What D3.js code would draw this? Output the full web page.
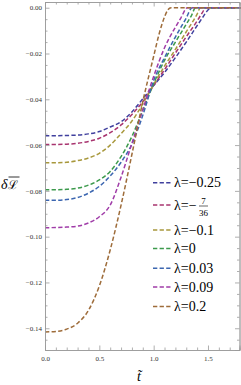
<!DOCTYPE html>
<html>
<head>
<meta charset="utf-8">
<script src="https://cdn.jsdelivr.net/npm/d3@7"></script>
<style>
  body { margin: 0; background: #fff; }
  svg { display: block; }
</style>
</head>
<body>
<svg width="241" height="385"></svg>
<script>
// series data: [t, deltaL]
const lamM025 = [[0,-0.0559],[0.1,-0.0559],[0.2,-0.0558],[0.3,-0.0556],[0.4,-0.0551],[0.5,-0.0541],[0.6,-0.0521],[0.7,-0.0498],[0.8,-0.0455],[0.9,-0.0398],[1.0,-0.0340],[1.1,-0.0283],[1.2,-0.0218],[1.3,-0.0150],[1.4,-0.0078],[1.45,-0.0043],[1.5,-0.0010],[1.53,0],[1.8,0]];
const lamM736 = [[0,-0.0597],[0.1,-0.0597],[0.2,-0.0596],[0.3,-0.0592],[0.4,-0.0584],[0.5,-0.0570],[0.6,-0.0546],[0.7,-0.0512],[0.8,-0.0466],[0.9,-0.0410],[1.0,-0.0340],[1.1,-0.0270],[1.2,-0.0198],[1.3,-0.0127],[1.4,-0.0058],[1.45,-0.0020],[1.48,0],[1.8,0]];
const lamM01 = [[0,-0.0677],[0.1,-0.0677],[0.2,-0.0675],[0.3,-0.0668],[0.4,-0.0656],[0.5,-0.0636],[0.6,-0.0600],[0.7,-0.0550],[0.8,-0.0495],[0.9,-0.0420],[1.0,-0.0335],[1.1,-0.0255],[1.2,-0.0182],[1.3,-0.0105],[1.4,-0.0028],[1.43,0],[1.8,0]];
const lam0 = [[0,-0.0795],[0.1,-0.0795],[0.2,-0.0793],[0.3,-0.0788],[0.4,-0.0775],[0.5,-0.0752],[0.6,-0.0715],[0.7,-0.0650],[0.8,-0.0562],[0.9,-0.0448],[1.0,-0.0332],[1.1,-0.0230],[1.2,-0.0150],[1.3,-0.0072],[1.35,-0.0032],[1.385,0],[1.8,0]];
const lam003 = [[0,-0.0841],[0.1,-0.0841],[0.2,-0.0838],[0.3,-0.0829],[0.4,-0.0810],[0.5,-0.0780],[0.6,-0.0735],[0.7,-0.0675],[0.8,-0.0595],[0.9,-0.0470],[1.0,-0.0318],[1.1,-0.0218],[1.2,-0.0128],[1.3,-0.0045],[1.354,0],[1.8,0]];
const lam009 = [[0,-0.0961],[0.1,-0.0960],[0.2,-0.0958],[0.3,-0.0954],[0.4,-0.0940],[0.5,-0.0913],[0.6,-0.0862],[0.7,-0.0740],[0.8,-0.0592],[0.9,-0.0445],[1.0,-0.0300],[1.1,-0.0175],[1.2,-0.0085],[1.25,-0.0045],[1.31,0],[1.8,0]];
const lam02 = [[0,-0.1416],[0.1,-0.1414],[0.2,-0.1404],[0.3,-0.1378],[0.4,-0.1322],[0.5,-0.1215],[0.6,-0.1058],[0.7,-0.0862],[0.8,-0.0640],[0.9,-0.0410],[1.0,-0.0212],[1.05,-0.0115],[1.1,-0.0040],[1.13,-0.0010],[1.16,0],[1.8,0]];

const seriesData = [lamM025, lamM736, lamM01, lam0, lam003, lam009, lam02];
const seriesLabels = ["−0.25", "frac", "−0.1", "0", "0.03", "0.09", "0.2"];
const seriesColors = ["#40409e", "#a8346f", "#a8983c", "#3c9a4c", "#3c66b0", "#a03ca8", "#9e6c3a"];

const xTicks = [0, 0.5, 1.0, 1.5];
const xTickLabels = ["0.0", "0.5", "1.0", "1.5"];
const yTicks = [0, -0.02, -0.04, -0.06, -0.08, -0.10, -0.12, -0.14];
const yTickLabels = ["0.00", "−0.02", "−0.04", "−0.06", "−0.08", "−0.10", "−0.12", "−0.14"];

let mLeft = 45, mRight = 239.5, mTop = 2, mBottom = 350;

var xScale = d3.scaleLinear([0, 1.79], [mLeft, mRight]);
var yScale = d3.scaleLinear([-0.1495, 0.0025], [mBottom, mTop]);

var svg = d3.select("svg");
var frameColor = "#9a9a9a";
var serif = "'Liberation Serif', 'DejaVu Serif', serif";

// curves
var line = d3.line()
    .x(function(d) { return xScale(d[0]); })
    .y(function(d) { return yScale(d[1]); })
    .curve(d3.curveMonotoneX);

svg.append("g")
    .selectAll("path")
    .data(seriesData)
    .enter()
        .append("path")
        .attr("d", line)
        .attr("fill", "none")
        .attr("stroke", function(d, i) { return seriesColors[i]; })
        .attr("stroke-width", 1.5)
        .attr("stroke-dasharray", "4.3,2.3");

// frame with inward ticks on all sides
var xMinor = d3.range(0, 1.79, 0.1).filter(function(v) { return Math.abs(v * 2 - Math.round(v * 2)) > 1e-6; });
var yMinor = d3.range(0, -0.1495, -0.005).filter(function(v) { return Math.abs(v * 50 - Math.round(v * 50)) > 1e-6; });

svg.append("g").attr("transform", "translate(0," + mBottom + ")")
    .call(d3.axisBottom(xScale).tickValues(xTicks).tickSize(-4.5).tickPadding(6).tickFormat(function(d, i) { return xTickLabels[i]; }));
svg.append("g").attr("transform", "translate(0," + mBottom + ")")
    .call(d3.axisBottom(xScale).tickValues(xMinor).tickSize(-2.5).tickFormat(""));
svg.append("g").attr("transform", "translate(0," + mTop + ")")
    .call(d3.axisTop(xScale).tickValues(xTicks).tickSize(-4.5).tickFormat(""));
svg.append("g").attr("transform", "translate(0," + mTop + ")")
    .call(d3.axisTop(xScale).tickValues(xMinor).tickSize(-2.5).tickFormat(""));

svg.append("g").attr("transform", "translate(" + mLeft + ",0)")
    .call(d3.axisLeft(yScale).tickValues(yTicks).tickSize(-4.5).tickPadding(3).tickFormat(function(d, i) { return yTickLabels[i]; }));
svg.append("g").attr("transform", "translate(" + mLeft + ",0)")
    .call(d3.axisLeft(yScale).tickValues(yMinor).tickSize(-2.5).tickFormat(""));
svg.append("g").attr("transform", "translate(" + mRight + ",0)")
    .call(d3.axisRight(yScale).tickValues(yTicks).tickSize(-4.5).tickFormat(""));
svg.append("g").attr("transform", "translate(" + mRight + ",0)")
    .call(d3.axisRight(yScale).tickValues(yMinor).tickSize(-2.5).tickFormat(""));

svg.selectAll(".domain").attr("stroke", frameColor).attr("stroke-width", 0.8);
svg.selectAll(".tick line").attr("stroke", frameColor).attr("stroke-width", 0.8);
svg.selectAll(".tick text")
    .attr("fill", "#333")
    .style("font-family", serif)
    .style("font-size", "7px");

// axis labels
var yLab = svg.append("g").attr("transform", "translate(1,189)");
var yLabText = yLab.append("text")
    .attr("x", 0).attr("y", 0)
    .style("font-family", "'DejaVu Serif', serif")
    .style("font-size", "12px");
yLabText.append("tspan").style("font-style", "italic").style("font-family", serif).style("font-size", "14px").text("δ");
yLabText.append("tspan").text("ℒ");
yLab.append("line")
    .attr("x1", 7.5).attr("x2", 18.5).attr("y1", -12).attr("y2", -12)
    .attr("stroke", "#000").attr("stroke-width", 0.8);

svg.append("text")
    .attr("x", 137).attr("y", 381)
    .style("font-family", serif)
    .style("font-style", "italic")
    .style("font-size", "14px")
    .text("t\u0303");

// legend
var legendY = [182.7, 205, 230, 248.5, 268.3, 287, 306.5];
var legend = svg.append("g")
    .selectAll("g")
    .data(seriesLabels)
    .enter()
        .append("g")
        .attr("transform", function(d, i) { return "translate(153," + legendY[i] + ")"; });

legend.append("line")
    .attr("x1", 0).attr("x2", 19)
    .attr("stroke", function(d, i) { return seriesColors[i]; })
    .attr("stroke-width", 1.5)
    .attr("stroke-dasharray", "4.3,2.3");

legend.append("text")
    .attr("x", 21).attr("y", 4.5)
    .style("font-family", serif)
    .style("font-size", "14px")
    .text(function(d) { return d == "frac" ? "λ=−" : "λ=" + d; });

var frac = legend.filter(function(d) { return d == "frac"; });
frac.append("text")
    .attr("x", 50.5).attr("y", -1.5)
    .attr("text-anchor", "middle")
    .style("font-family", serif)
    .style("font-size", "9px")
    .text("7");
frac.append("line")
    .attr("x1", 46).attr("x2", 55).attr("y1", 1).attr("y2", 1)
    .attr("stroke", "#000").attr("stroke-width", 0.6);
frac.append("text")
    .attr("x", 50.5).attr("y", 10.5)
    .attr("text-anchor", "middle")
    .style("font-family", serif)
    .style("font-size", "9px")
    .text("36");
</script>
</body>
</html>
